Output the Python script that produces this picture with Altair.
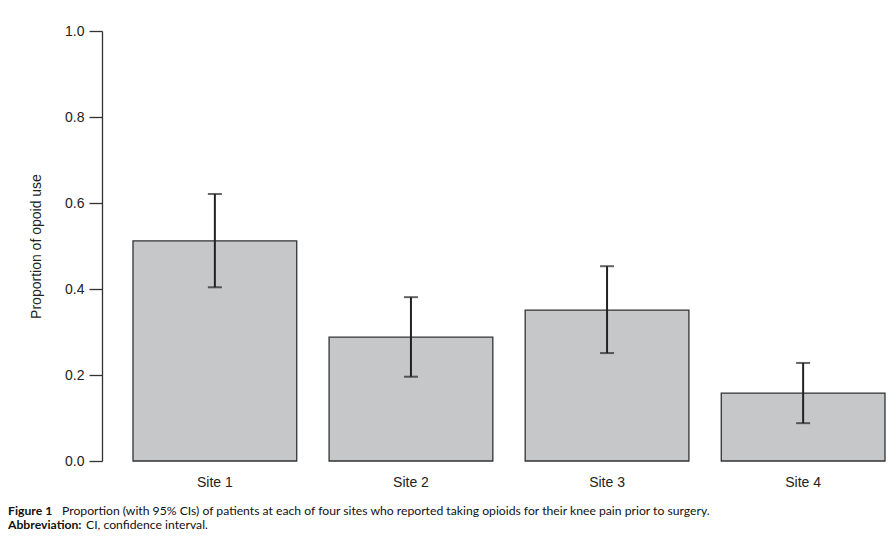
import altair as alt
import pandas as pd

categories = ["Site 1", "Site 2", "Site 3", "Site 4"]
proportion = [0.512, 0.288, 0.351, 0.158]
ci_low = [0.404, 0.196, 0.251, 0.088]
ci_high = [0.621, 0.381, 0.453, 0.228]

caption_bold = ["Figure 1", "Abbreviation:"]
caption_text = [
    "Proportion (with 95% CIs) of patients at each of four sites who reported taking opioids for their knee pain prior to surgery.",
    "CI, confidence interval.",
]

df = pd.DataFrame({"site": categories, "p": proportion, "lo": ci_low, "hi": ci_high})

FONT = "Liberation Sans"
CAP_FONT = "Lato"

x = alt.X(
    "site:N",
    sort=categories,
    scale=alt.Scale(paddingInner=0.165, paddingOuter=0),
    axis=alt.Axis(title=None, labelAngle=0, domain=False, ticks=False,
                  labelFontSize=14, labelFont=FONT, labelColor="#222",
                  labelPadding=14),
)

bars = alt.Chart(df).mark_bar(fill="#c6c7c9", stroke="#333", strokeWidth=1.3).encode(
    x=x,
    y=alt.Y("p:Q", scale=alt.Scale(domain=[0, 1], nice=False),
            axis=alt.Axis(title="Proportion of opoid use", values=[0, 0.2, 0.4, 0.6, 0.8, 1.0],
                          format=".1f", grid=False, offset=31, tickSize=13,
                          domainColor="#333", tickColor="#333", domainWidth=1.3, tickWidth=1.3,
                          labelFontSize=14, labelFont=FONT, labelColor="#222", labelPadding=5,
                          titleFontSize=14, titleFont=FONT, titleFontWeight="normal",
                          titleColor="#222", titlePadding=21)),
)

rules = alt.Chart(df).mark_rule(color="#222", strokeWidth=2).encode(
    x=alt.X("site:N", sort=categories), y="lo:Q", y2="hi:Q"
)
cap_hi = alt.Chart(df).mark_tick(color="#222", thickness=2, size=14, orient="horizontal").encode(
    x=alt.X("site:N", sort=categories), y="hi:Q"
)
cap_lo = alt.Chart(df).mark_tick(color="#222", thickness=2, size=14, orient="horizontal").encode(
    x=alt.X("site:N", sort=categories), y="lo:Q"
)

cap_df = pd.DataFrame({"bold": caption_bold, "text": caption_text, "line": [0, 1]})

def cap_layer(field, weight, xpos, line, ypos):
    return alt.Chart(cap_df[cap_df["line"] == line]).mark_text(
        align="left", baseline="alphabetic", font=CAP_FONT, fontSize=12.2,
        fontWeight=weight, color="#111"
    ).encode(text=f"{field}:N", x=alt.value(xpos), y=alt.value(ypos))

caps = [
    cap_layer("bold", "bold", -125, 0, 484),
    cap_layer("text", "normal", -71, 0, 484),
    cap_layer("bold", "bold", -125, 1, 498),
    cap_layer("text", "normal", -47, 1, 498),
]

chart = alt.layer(bars, rules, cap_hi, cap_lo, *caps).properties(
    width=752, height=430,
    background="white",
    autosize=alt.AutoSizeParams(type="none"),
    padding={"left": 125, "top": 23, "right": 1, "bottom": 70},
).configure_view(stroke=None, strokeWidth=0)

chart.save("out.html", embed_options={"renderer": "svg", "actions": False})
